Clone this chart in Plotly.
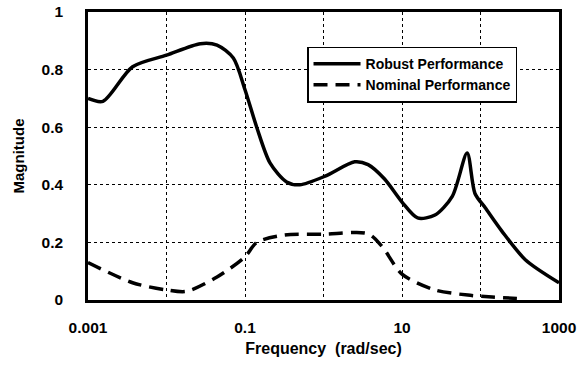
import plotly.graph_objects as go

# Robust performance (solid)
robust_freq = [0.001, 0.00155, 0.0037, 0.01, 0.027, 0.044, 0.071, 0.1, 0.141, 0.209,
               0.339, 0.5, 1.05, 2.5, 3.7, 6.0, 10.0, 15.8, 26.3, 43.7, 67.6, 85.0,
               115.0, 186.0, 372.0, 1000.0]
robust_mag = [0.70, 0.69, 0.81, 0.85, 0.89, 0.885, 0.84, 0.73, 0.60, 0.475,
              0.41, 0.40, 0.43, 0.48, 0.47, 0.42, 0.34, 0.285, 0.295, 0.36, 0.51, 0.37,
              0.32, 0.24, 0.14, 0.06]

# Nominal performance (dashed)
nominal_freq = [0.001, 0.0037, 0.01, 0.018, 0.044, 0.1, 0.141, 0.31, 1.0, 3.7,
                5.6, 10.0, 26.3, 69.0, 141.0, 316.0]
nominal_mag = [0.13, 0.06, 0.035, 0.03, 0.08, 0.15, 0.20, 0.225, 0.228, 0.23,
               0.185, 0.09, 0.035, 0.017, 0.01, 0.005]

x_tickvals = [0.001, 0.01, 0.1, 1, 10, 100, 1000]
x_ticktext = ["0.001", "", "0.1", "", "10", "", "1000"]
y_tickvals = [0, 0.2, 0.4, 0.6, 0.8, 1]
y_ticktext = ["0", "0.2", "0.4", "0.6", "0.8", "1"]

font_family = "Liberation Sans, Arial, sans-serif"

fig = go.Figure()
fig.add_trace(go.Scatter(x=robust_freq, y=robust_mag, mode="lines",
                         name="Robust Performance",
                         line=dict(color="black", width=3.5, shape="spline", smoothing=0.8)))
fig.add_trace(go.Scatter(x=nominal_freq, y=nominal_mag, mode="lines",
                         name="Nominal Performance",
                         line=dict(color="black", width=3.5, dash="14px,8px",
                                   shape="spline", smoothing=0.8)))

fig.update_layout(
    width=585, height=369,
    margin=dict(l=88, r=26, t=12, b=69, autoexpand=False),
    paper_bgcolor="white", plot_bgcolor="white",
    font=dict(family=font_family, color="black", size=15, weight="bold"),
    legend=dict(x=0.465, y=0.88, xanchor="left", yanchor="top",
                bgcolor="white", bordercolor="black", borderwidth=1.5,
                font=dict(size=14, family=font_family, weight="bold"),
                tracegroupgap=0, itemwidth=47),
    showlegend=True,
)
fig.update_xaxes(type="log", range=[-3, 3], tickvals=x_tickvals, ticktext=x_ticktext,
                 showgrid=True, gridcolor="black", griddash="dot", gridwidth=1.3,
                 showline=True, linecolor="black", linewidth=2.5, mirror=True,
                 ticks="", ticklabelstandoff=12, zeroline=False, automargin=False,
                 tickfont=dict(size=15.5),
                 title=dict(text="Frequency  (rad/sec)", standoff=8,
                            font=dict(size=16, family=font_family, weight="bold")))
fig.update_yaxes(range=[0, 1], tickvals=y_tickvals, ticktext=y_ticktext,
                 showgrid=True, gridcolor="black", griddash="dot", gridwidth=1.3,
                 showline=True, linecolor="black", linewidth=2.5, mirror=True,
                 ticks="", ticklabelstandoff=19, zeroline=False, automargin=False,
                 tickfont=dict(size=15.5),
                 title=dict(text="Magnitude", standoff=14,
                            font=dict(size=15, family=font_family, weight="bold")))

fig.write_html("out.html")
